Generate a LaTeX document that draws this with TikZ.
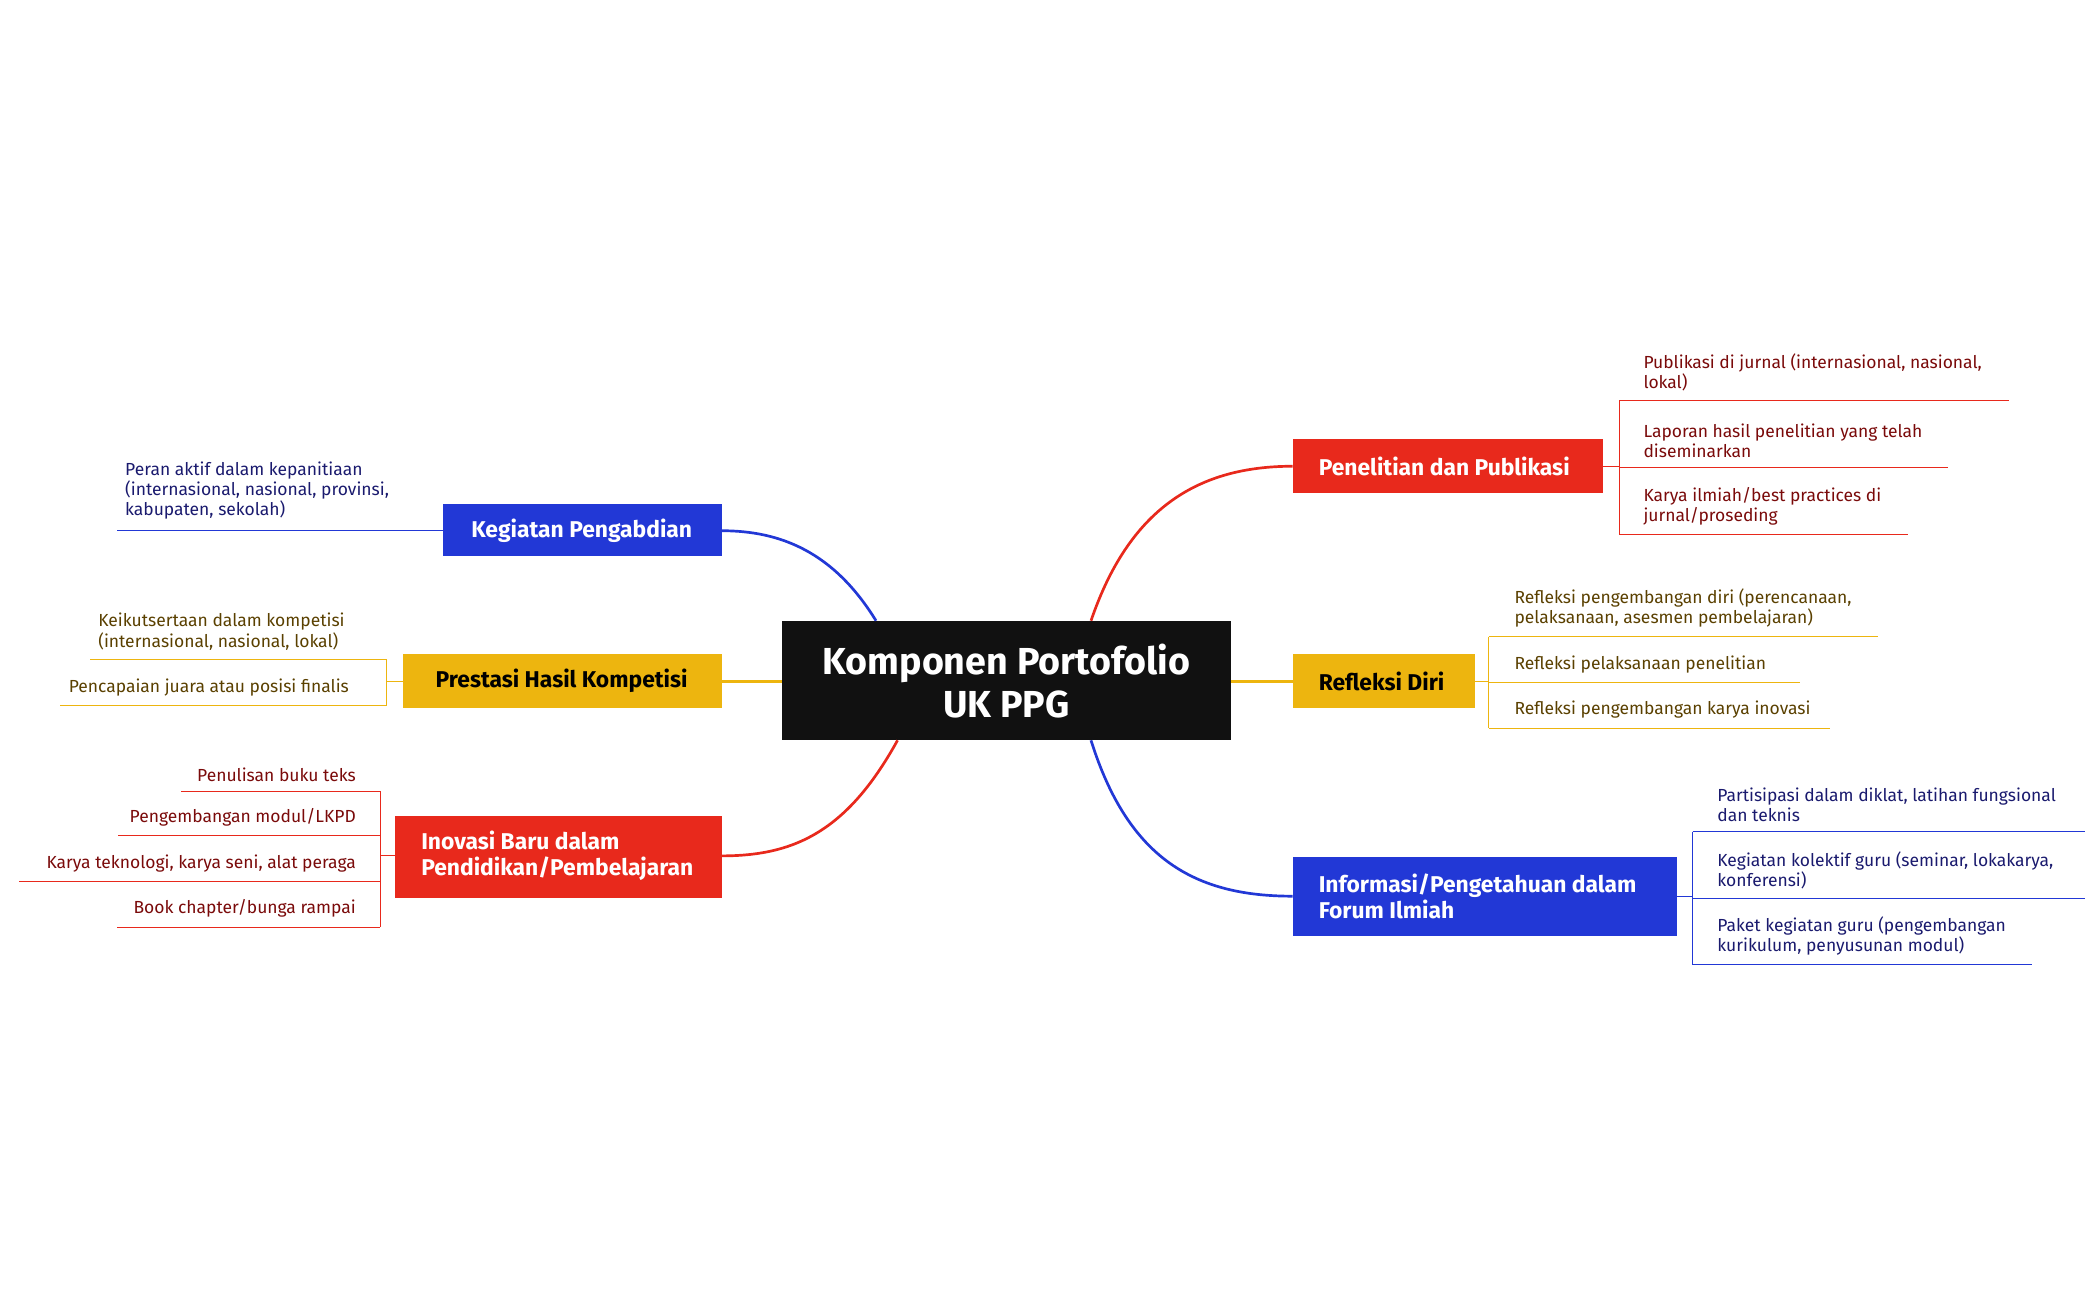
\documentclass[tikz,border=0pt]{standalone}
\usepackage{fontspec}
\setmainfont{Fira Sans}
\definecolor{cR}{HTML}{E8291C}
\definecolor{cB}{HTML}{2238D6}
\definecolor{cY}{HTML}{EDB50F}
\definecolor{cK}{HTML}{111111}
\definecolor{tR}{HTML}{7A0A0A}
\definecolor{tB}{HTML}{1A1A6E}
\definecolor{tY}{HTML}{5A4000}
\begin{document}
\begin{tikzpicture}[x=1pt,y=-1pt,
 br/.style={inner sep=0pt,minimum height=#1},
 lab/.style={font=\fontsize{17}{19}\selectfont\bfseries,align=left},
 leaf/.style={font=\fontsize{13}{15}\selectfont,align=left,inner sep=0pt},
 con/.style={line width=2pt}]
\useasboundingbox (0,0) rectangle (1560,967);
% center
\fill[cK] (582,462) rectangle (916,551);
\node[font=\fontsize{28}{32}\selectfont\bfseries,text=white,align=center] (c) at (749,507) {Komponen Portofolio\\UK PPG};
\coordinate (cTL) at (652,462); \coordinate (cTR) at (812,462);
\coordinate (cBL) at (668,551); \coordinate (cBR) at (812,551);
\coordinate (cL) at (582,507); \coordinate (cR) at (916,507);
% boxes
\fill[cR] (962,327) rectangle (1193,367);
\node[lab,text=white,anchor=west] (pp) at (978,347) {Penelitian dan Publikasi};
\fill[cY] (962,487) rectangle (1098,527);
\node[lab,text=black,anchor=west] (rd) at (978,507) {Refleksi Diri};
\fill[cB] (962,638) rectangle (1248,697);
\node[lab,text=white,anchor=west] (ip) at (978,667) {Informasi/Pengetahuan dalam\\Forum Ilmiah};
\fill[cB] (330,375) rectangle (537,414);
\node[lab,text=white] (kp) at (433,395) {Kegiatan Pengabdian};
\fill[cY] (300,487) rectangle (537,527);
\node[lab,text=black] (ph) at (418,507) {Prestasi Hasil Kompetisi};
\fill[cR] (294,607) rectangle (537,668);
\node[lab,text=white,anchor=west] (ib) at (310,637) {Inovasi Baru dalam\\Pendidikan/Pembelajaran};
\coordinate (ppL) at (962,347); \coordinate (rdL) at (962,507); \coordinate (ipL) at (962,667);
\coordinate (kpR) at (537,395); \coordinate (phR) at (537,507); \coordinate (ibR) at (537,637);
% main connectors
\draw[con,cR] (cTR) .. controls (840,380) and (890,347) .. (ppL);
\draw[con,cY] (cR) -- (rdL);
\draw[con,cB] (cBR) .. controls (840,640) and (890,667) .. (ipL);
\draw[con,cB] (cTL) .. controls (620,410) and (580,395) .. (kpR);
\draw[con,cY] (cL) -- (phR);
\draw[con,cR] (cBL) .. controls (630,620) and (590,637) .. (ibR);
% Penelitian leaves
\draw[cR,thick] (1193,347) -- (1205,347) (1205,298) -- (1205,398)
 (1205,298) -- (1495,298) (1205,348) -- (1450,348) (1205,398) -- (1420,398);
\node[leaf,text=tR,anchor=south west] (p1) at (1223,291) {Publikasi di jurnal (internasional, nasional,\\lokal)};
\node[leaf,text=tR,anchor=south west] (p2) at (1223,341) {Laporan hasil penelitian yang telah\\diseminarkan};
\node[leaf,text=tR,anchor=south west] (p3) at (1223,391) {Karya ilmiah/best practices di\\jurnal/proseding};
% Refleksi leaves
\draw[cY,thick] (1098,507) -- (1108,507) (1108,474) -- (1108,542)
 (1108,474) -- (1398,474) (1108,508) -- (1340,508) (1108,542) -- (1362,542);
\node[leaf,text=tY,anchor=south west] (r1) at (1127,467) {Refleksi pengembangan diri (perencanaan,\\pelaksanaan, asesmen pembelajaran)};
\node[leaf,text=tY,anchor=south west] (r2) at (1127,501) {Refleksi pelaksanaan penelitian};
\node[leaf,text=tY,anchor=south west] (r3) at (1127,535) {Refleksi pengembangan karya inovasi};
% Informasi leaves
\draw[cB,thick] (1248,667) -- (1260,667) (1260,619) -- (1260,718)
 (1260,619) -- (1552,619) (1260,669) -- (1552,669) (1260,718) -- (1512,718);
\node[leaf,text=tB,anchor=south west] (i1) at (1278,612) {Partisipasi dalam diklat, latihan fungsional\\dan teknis};
\node[leaf,text=tB,anchor=south west] (i2) at (1278,662) {Kegiatan kolektif guru (seminar, lokakarya,\\konferensi)};
\node[leaf,text=tB,anchor=south west] (i3) at (1278,711) {Paket kegiatan guru (pengembangan\\kurikulum, penyusunan modul)};
% Kegiatan leaf
\draw[cB,thick] (330,395) -- (87,395);
\node[leaf,text=tB,anchor=south west] (k1) at (93,387) {Peran aktif dalam kepanitiaan\\(internasional, nasional, provinsi,\\kabupaten, sekolah)};
% Prestasi leaves
\draw[cY,thick] (300,507) -- (288,507) (288,491) -- (288,525)
 (288,491) -- (67,491) (288,525) -- (45,525);
\node[leaf,text=tY,anchor=south west] (h1) at (73,484) {Keikutsertaan dalam kompetisi\\(internasional, nasional, lokal)};
\node[leaf,text=tY,anchor=south west] (h2) at (51,518) {Pencapaian juara atau posisi finalis};
% Inovasi leaves
\draw[cR,thick] (294,637) -- (283,637) (283,589) -- (283,690)
 (283,589) -- (135,589) (283,622) -- (88,622) (283,656) -- (14,656) (283,690) -- (87,690);
\node[leaf,text=tR,anchor=south east] (n1) at (265,582) {Penulisan buku teks};
\node[leaf,text=tR,anchor=south east] (n2) at (265,615) {Pengembangan modul/LKPD};
\node[leaf,text=tR,anchor=south east] (n3) at (265,649) {Karya teknologi, karya seni, alat peraga};
\node[leaf,text=tR,anchor=south east] (n4) at (265,683) {Book chapter/bunga rampai};
\end{tikzpicture}
\end{document}
